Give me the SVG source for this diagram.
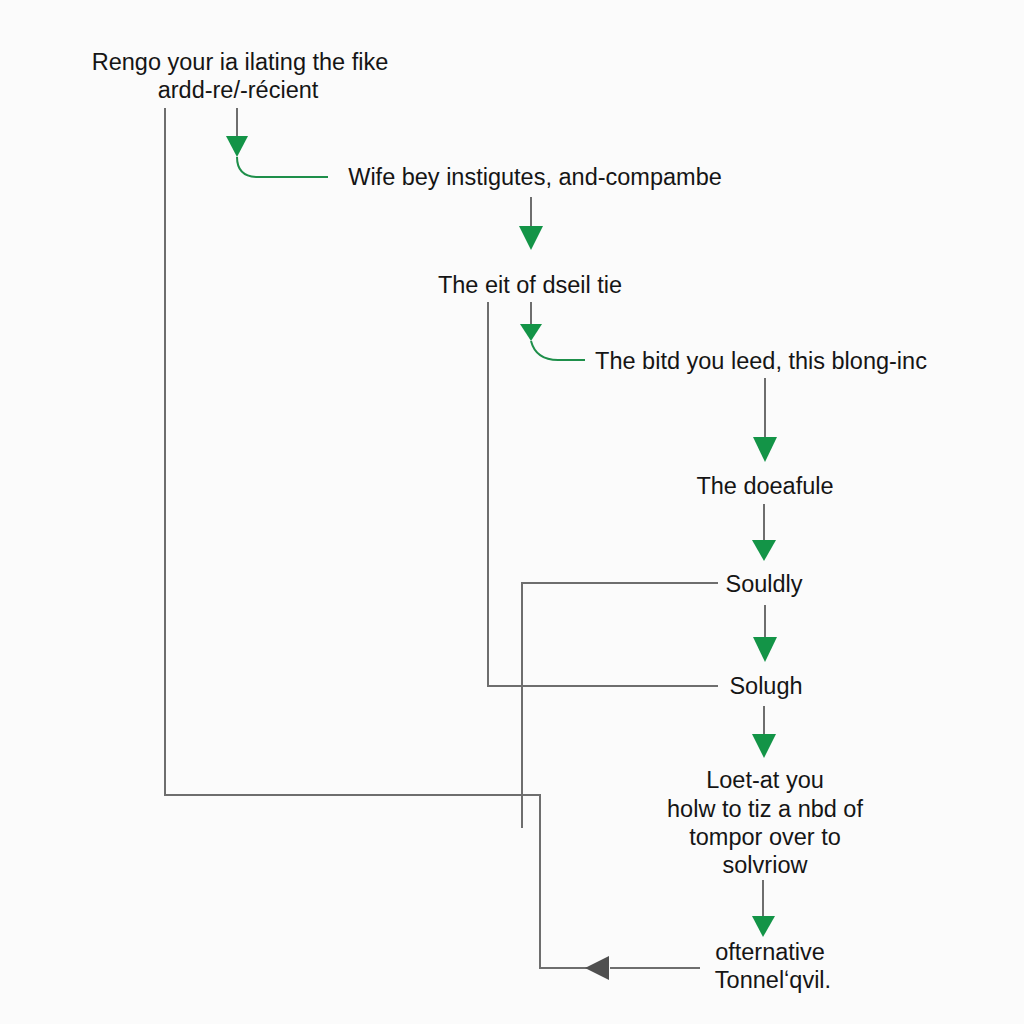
<svg xmlns="http://www.w3.org/2000/svg" width="1024" height="1024" viewBox="0 0 1024 1024">
<defs>
<style>
.t{font-family:"Liberation Sans",Arial,sans-serif;font-size:23.5px;fill:#151515;text-anchor:middle}
.g{fill:none;stroke:#6e6e6e;stroke-width:2}
.c{fill:none;stroke:#1e8f4a;stroke-width:2}
.h{fill:#139447}
</style>
</defs>
<rect width="1024" height="1024" fill="#fbfbfb"/>
<g id="connectors">
<path class="g" d="M165,108 V795 H540 V968 H596"/>
<path class="g" d="M610,968 H700"/>
<polygon points="585,968 609,956 609,980" fill="#4f4f4f"/>
<path class="g" d="M488,302 V686 H718"/>
<path class="g" d="M718,583 H522 V828"/>
<path class="g" d="M237,108 V136"/>
<polygon class="h" points="226,136 248,136 237,157"/>
<path class="c" d="M237,157 Q237,177 258,177 H328"/>
<path class="g" d="M531,197 V226"/>
<polygon class="h" points="519,226 543,226 531,250"/>
<path class="g" d="M531,302 V324"/>
<polygon class="h" points="520,324 542,324 531,341"/>
<path class="c" d="M531,341 Q536,360 558,360 H585"/>
<path class="g" d="M765,378 V437"/>
<polygon class="h" points="753,437 777,437 765,462"/>
<path class="g" d="M764,504 V540"/>
<polygon class="h" points="752,540 776,540 764,561"/>
<path class="g" d="M765,605 V637"/>
<polygon class="h" points="753,637 777,637 765,662"/>
<path class="g" d="M764,706 V734"/>
<polygon class="h" points="752,734 776,734 764,758"/>
<path class="g" d="M763,880 V916"/>
<polygon class="h" points="752,916 775,916 763,937"/>
</g>
<g id="n1"><text class="t" x="240" y="70">Rengo your ia ilating the fike</text><text class="t" x="238" y="98">ardd-re/-récient</text></g>
<g id="n2"><text class="t" x="535" y="185">Wife bey instigutes, and-compambe</text></g>
<g id="n3"><text class="t" x="530" y="293">The eit of dseil tie</text></g>
<g id="n4"><text class="t" x="761" y="369">The bitd you leed, this blong-inc</text></g>
<g id="n5"><text class="t" x="765" y="494">The doeafule</text></g>
<g id="n6"><text class="t" x="764" y="592">Souldly</text></g>
<g id="n7"><text class="t" x="766" y="694">Solugh</text></g>
<g id="n8"><text class="t" x="765" y="788">Loet-at you</text><text class="t" x="765" y="817">holw to tiz a nbd of</text><text class="t" x="765" y="845">tompor over to</text><text class="t" x="765" y="873">solvriow</text></g>
<g id="n9"><text class="t" x="770" y="960">ofternative</text><text class="t" x="773" y="988">Tonnelʻqvil.</text></g>
</svg>
